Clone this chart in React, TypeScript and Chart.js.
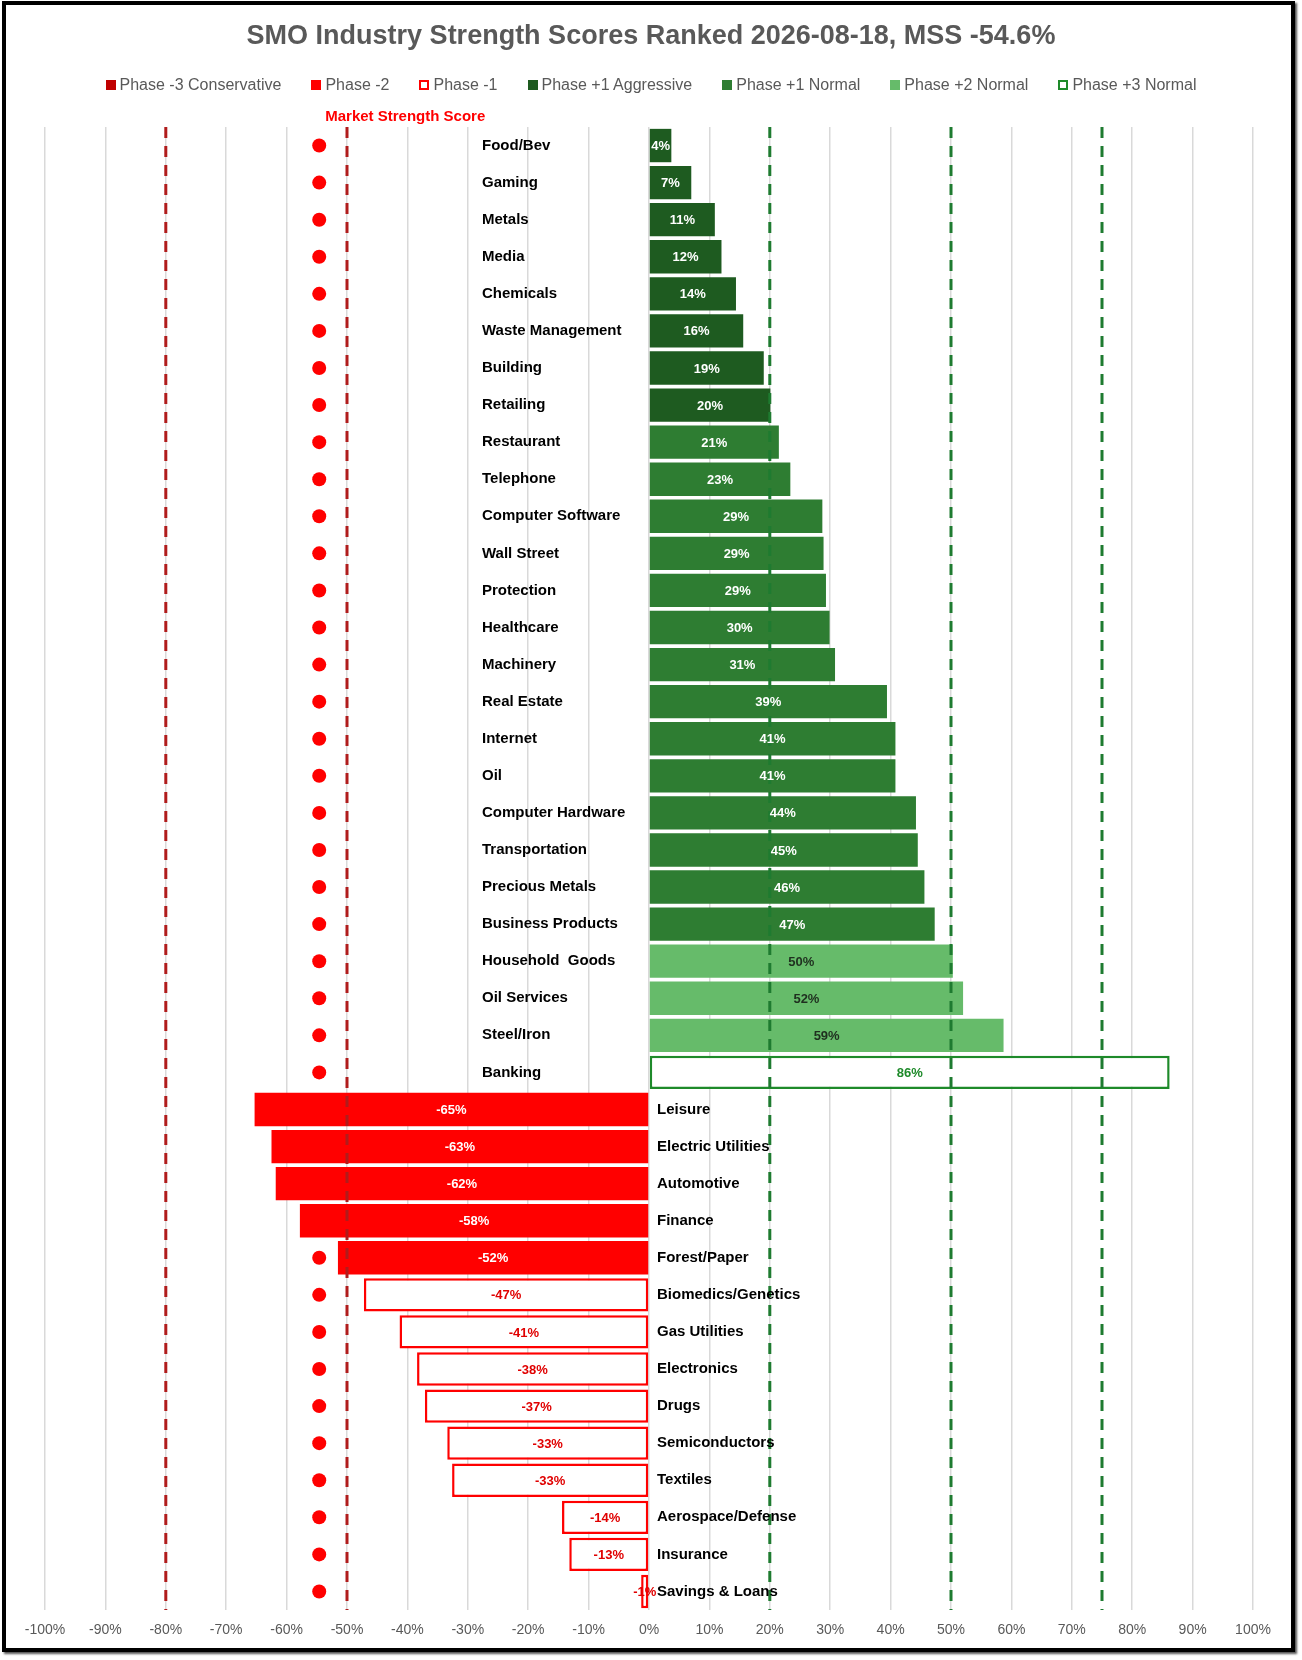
import React, { useEffect, useRef } from "react";
import { Chart, registerables } from "chart.js";
Chart.register(...registerables);

const categories = ["Food/Bev","Gaming","Metals","Media","Chemicals","Waste Management","Building","Retailing","Restaurant","Telephone","Computer Software","Wall Street","Protection","Healthcare","Machinery","Real Estate","Internet","Oil","Computer Hardware","Transportation","Precious Metals","Business Products","Household  Goods","Oil Services","Steel/Iron","Banking","Leisure","Electric Utilities","Automotive","Finance","Forest/Paper","Biomedics/Genetics","Gas Utilities","Electronics","Drugs","Semiconductors","Textiles","Aerospace/Defense","Insurance","Savings & Loans"];
const values = [3.7,7,10.9,12,14.4,15.6,19,20.1,21.5,23.4,28.7,28.9,29.3,29.9,30.8,39.4,40.8,40.8,44.2,44.5,45.6,47.3,50.3,52,58.7,86.2,-65.3,-62.5,-61.8,-57.8,-51.5,-47.2,-41.3,-38.4,-37.1,-33.4,-32.6,-14.4,-13.2,-1.3];
const valueLabels = ["4%","7%","11%","12%","14%","16%","19%","20%","21%","23%","29%","29%","29%","30%","31%","39%","41%","41%","44%","45%","46%","47%","50%","52%","59%","86%","-65%","-63%","-62%","-58%","-52%","-47%","-41%","-38%","-37%","-33%","-33%","-14%","-13%","-1%"];
const phases = ["+1A","+1A","+1A","+1A","+1A","+1A","+1A","+1A","+1N","+1N","+1N","+1N","+1N","+1N","+1N","+1N","+1N","+1N","+1N","+1N","+1N","+1N","+2N","+2N","+2N","+3N","-2","-2","-2","-2","-2","-1","-1","-1","-1","-1","-1","-1","-1","-1"];
const mss = -54.6;
const xTicks = [-100,-90,-80,-70,-60,-50,-40,-30,-20,-10,0,10,20,30,40,50,60,70,80,90,100];
const redLines = [-80, -50];
const greenLines = [20, 50, 75];
const legendItems = [
  { label: "Phase -3 Conservative", fill: "#c00000", border: "#c00000" },
  { label: "Phase -2", fill: "#ff0000", border: "#ff0000" },
  { label: "Phase -1", fill: "#ffffff", border: "#ff0000" },
  { label: "Phase +1 Aggressive", fill: "#1e5b20", border: "#1e5b20" },
  { label: "Phase +1 Normal", fill: "#2e7d32", border: "#2e7d32" },
  { label: "Phase +2 Normal", fill: "#66bb6a", border: "#66bb6a" },
  { label: "Phase +3 Normal", fill: "#ffffff", border: "#1e8a2a" },
];

const style: Record<string, { fill: string; border: string; text: string; bw: number }> = {
  "+1A": { fill: "#1e5b20", border: "#1e5b20", text: "#ffffff", bw: 0 },
  "+1N": { fill: "#2e7d32", border: "#2e7d32", text: "#ffffff", bw: 0 },
  "+2N": { fill: "#66bb6a", border: "#66bb6a", text: "#1f2f1f", bw: 0 },
  "+3N": { fill: "#ffffff", border: "#1e8a2a", text: "#1e8a2a", bw: 2.5 },
  "-2": { fill: "#ff0000", border: "#ff0000", text: "#ffffff", bw: 0 },
  "-1": { fill: "#ffffff", border: "#ff0000", text: "#e00000", bw: 2.5 },
};

const NARROW = '"Liberation Sans Narrow", "Liberation Sans", Arial, sans-serif';

export default function App() {
  const ref = useRef<HTMLCanvasElement>(null);
  useEffect(() => {
    document.body.style.margin = "0";
    const overlay = {
      id: "overlay",
      afterDatasetsDraw(chart: any) {
        const { ctx, chartArea, scales } = chart;
        const x = scales.x, y = scales.y;
        ctx.save();
        ctx.lineWidth = 3;
        ctx.setLineDash([11, 8]);
        const vline = (v: number, c: string) => {
          const px = x.getPixelForValue(v);
          ctx.strokeStyle = c;
          ctx.beginPath();
          ctx.moveTo(px, chartArea.top);
          ctx.lineTo(px, chartArea.bottom);
          ctx.stroke();
        };
        redLines.forEach((v) => vline(v, "#b01c1c"));
        greenLines.forEach((v) => vline(v, "#1e7b30"));
        ctx.setLineDash([]);
        const meta = chart.getDatasetMeta(0);
        categories.forEach((c, i) => {
          const py = y.getPixelForValue(i);
          const v = values[i];
          ctx.font = `bold 15px ${NARROW}`;
          ctx.fillStyle = "#000";
          ctx.textAlign = "left";
          ctx.textBaseline = "middle";
          const zero = x.getPixelForValue(0);
          ctx.fillText(c, v >= 0 ? zero - 167 : zero + 8, py);
          const bar = meta.data[i];
          const cx = (bar.x + bar.base) / 2;
          ctx.font = "bold 13px 'Liberation Sans', Arial, sans-serif";
          ctx.textAlign = "center";
          ctx.fillStyle = style[phases[i]].text;
          ctx.fillText(valueLabels[i], cx, py + 1);
        });
        ctx.font = `bold 15px ${NARROW}`;
        ctx.fillStyle = "#ff0000";
        ctx.textAlign = "left";
        ctx.textBaseline = "middle";
        ctx.fillText("Market Strength Score", x.getPixelForValue(mss) + 6, chartArea.top - 10);
        ctx.restore();
      },
    };
    const chart = new Chart(ref.current!, {
      type: "bar",
      data: {
        labels: categories,
        datasets: [
          {
            type: "bar",
            data: values,
            backgroundColor: phases.map((p) => style[p].fill),
            borderColor: phases.map((p) => style[p].border),
            borderWidth: phases.map((p) => style[p].bw),
            borderSkipped: false,
            barPercentage: 0.9,
            categoryPercentage: 1,
            order: 1,
          } as any,
          {
            type: "line",
            indexAxis: "y",
            data: categories.map(() => mss),
            showLine: false,
            pointRadius: 7,
            pointBackgroundColor: "#ff0000",
            pointBorderWidth: 0,
            order: 2,
          } as any,
        ],
      },
      options: {
        indexAxis: "y",
        animation: false,
        responsive: false,
        layout: { padding: { top: 127, left: 45, right: 49, bottom: 0 } },
        plugins: { legend: { display: false }, tooltip: { enabled: false } },
        scales: {
          x: {
            min: -100,
            max: 100,
            afterBuildTicks: (s: any) => { s.ticks = xTicks.map((v) => ({ value: v })); },
            afterFit: (s: any) => { s.height = 50; },
            grid: { color: "#d9d9d9", lineWidth: 1.5, drawTicks: false },
            border: { display: false },
            ticks: { color: "#595959", font: { size: 14, family: NARROW }, padding: 12, callback: (v: any) => v + "%" },
          },
          y: { display: false, grid: { display: false } },
        },
      },
      plugins: [overlay],
    });
    return () => chart.destroy();
  }, []);
  return (
    <div style={{ position: "relative", width: 1302, height: 1660, background: "#fff" }}>
      <canvas ref={ref} width={1302} height={1660} style={{ position: "absolute", left: 0, top: 0 }} />
      <div style={{ position: "absolute", left: 2, top: 1, width: 1293, height: 1651, border: "4px solid #000", boxSizing: "border-box", boxShadow: "2px 2px 2px #555", pointerEvents: "none" }} />
      <div style={{ position: "absolute", top: 20, left: 0, width: 1302, textAlign: "center", fontFamily: NARROW, fontWeight: "bold", fontSize: 27, color: "#595959" }}>
        SMO Industry Strength Scores Ranked 2026-08-18, MSS -54.6%
      </div>
      <div style={{ position: "absolute", top: 76, left: 0, width: 1302, display: "flex", justifyContent: "center", gap: 30, fontFamily: NARROW, fontSize: 16, color: "#595959" }}>
        {legendItems.map((l) => (
          <div key={l.label} style={{ display: "flex", alignItems: "center", gap: 4 }}>
            <span style={{ display: "inline-block", width: 10, height: 10, background: l.fill, border: `2.5px solid ${l.border}`, boxSizing: "border-box" }} />
            {l.label}
          </div>
        ))}
      </div>
    </div>
  );
}
